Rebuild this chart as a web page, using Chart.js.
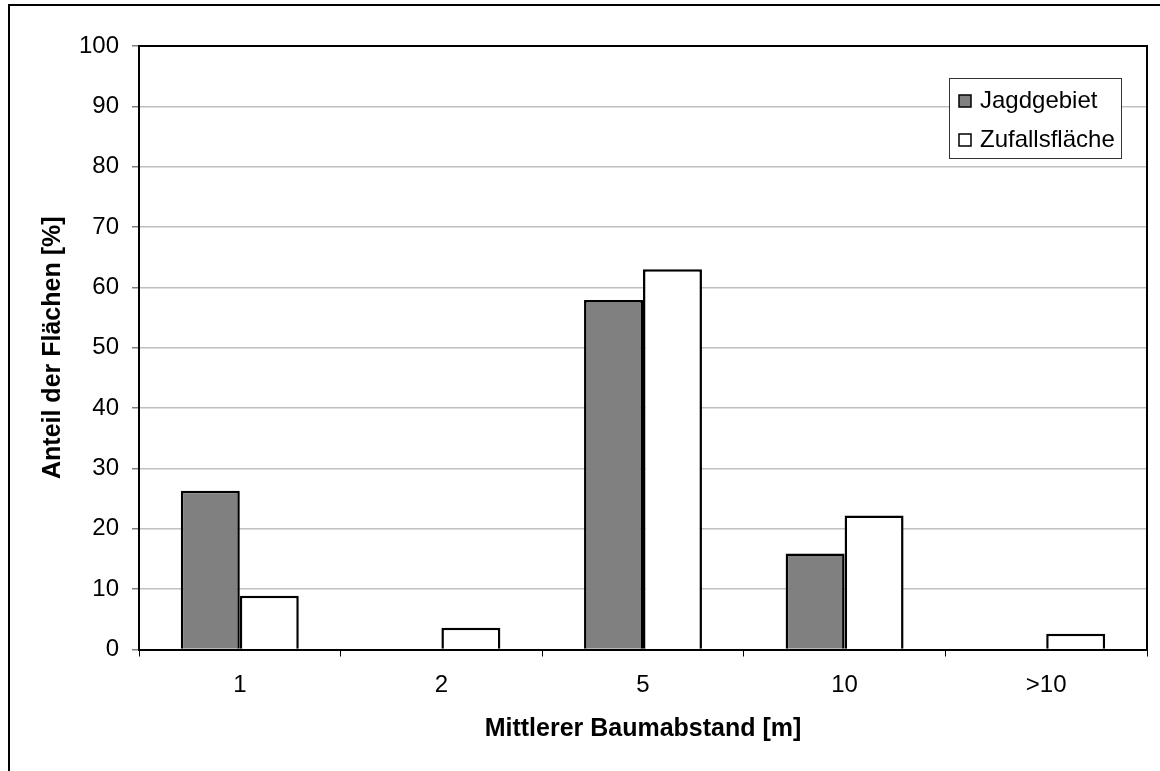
<!DOCTYPE html>
<html>
<head>
<meta charset="utf-8">
<script src="https://cdn.jsdelivr.net/npm/chart.js@4/dist/chart.umd.min.js"></script>
<style>
  html, body { margin: 0; padding: 0; background: #fff; }
  #wrap { width: 1160px; height: 771px; }
</style>
</head>
<body>
<div id="wrap"><canvas id="chart_baumabstand" width="1160" height="771"></canvas></div>
<script>
// Mittlerer Baumabstand: Jagdgebiet vs. Zufallsfläche
const kategorien = ["1", "2", "5", "10", ">10"];
const jagdgebiet = [26.3, 0, 57.9, 15.9, 0];
const zufallsflaeche = [8.9, 3.6, 63.0, 22.2, 2.6];
const yTicks = [0, 10, 20, 30, 40, 50, 60, 70, 80, 90, 100];

const fontName = "'Liberation Sans', Arial, sans-serif";

// frames, axis titles and the legend box
const excelLook = {
    id: "excelLook",
    afterDraw(chart) {
        const ctx = chart.ctx;
        const a = chart.chartArea;
        ctx.save();

        // outer border (only left and top edges are visible)
        ctx.strokeStyle = "#000";
        ctx.lineWidth = 2;
        ctx.beginPath();
        ctx.moveTo(9, 771);
        ctx.lineTo(9, 5);
        ctx.lineTo(1160, 5);
        ctx.stroke();

        // plot area frame, top + right
        ctx.beginPath();
        ctx.moveTo(a.left, a.top);
        ctx.lineTo(a.right, a.top);
        ctx.lineTo(a.right, a.bottom);
        ctx.stroke();

        // axis titles
        ctx.fillStyle = "#000";
        ctx.font = "bold 25px " + fontName;
        ctx.textAlign = "center";
        ctx.textBaseline = "middle";
        ctx.fillText("Mittlerer Baumabstand [m]", (a.left + a.right) / 2, 729);
        ctx.translate(53, (a.top + a.bottom) / 2);
        ctx.rotate(-Math.PI / 2);
        ctx.fillText("Anteil der Flächen [%]", 0, 0);
        ctx.setTransform(1, 0, 0, 1, 0, 0);

        // legend
        ctx.fillStyle = "#fff";
        ctx.fillRect(949, 78, 172, 80);
        ctx.strokeStyle = "#333";
        ctx.lineWidth = 1;
        ctx.strokeRect(949.5, 78.5, 172, 80);
        const rows = [101, 140];
        ctx.font = "24px " + fontName;
        ctx.textAlign = "left";
        chart.data.datasets.forEach((ds, i) => {
            const y = rows[i];
            ctx.fillStyle = ds.backgroundColor;
            ctx.fillRect(959, y - 6, 12, 12);
            ctx.strokeStyle = "#000";
            ctx.lineWidth = 1.5;
            ctx.strokeRect(959, y - 6, 12, 12);
            ctx.fillStyle = "#000";
            ctx.fillText(ds.label, 980, y);
        });
        ctx.restore();
    }
};

new Chart(document.getElementById("chart_baumabstand"), {
    type: "bar",
    data: {
        labels: kategorien,
        datasets: [{
            label: "Jagdgebiet",
            data: jagdgebiet,
            backgroundColor: "#808080",
            borderColor: "#000",
            borderWidth: 2.5,
        }, {
            label: "Zufallsfläche",
            data: zufallsflaeche,
            backgroundColor: "#ffffff",
            borderColor: "#000",
            borderWidth: 2.5,
        }]
    },
    options: {
        responsive: false,
        animation: false,
        layout: {
            padding: { left: 0, top: 46, right: 13, bottom: 0 }
        },
        datasets: {
            bar: { categoryPercentage: 0.585, barPercentage: 1.0 }
        },
        plugins: {
            legend: { display: false },
            tooltip: { enabled: false }
        },
        scales: {
            x: {
                afterFit: (scale) => { scale.height = 121.5; },
                grid: {
                    offset: true,
                    drawOnChartArea: false,
                    tickLength: 7,
                    tickColor: "#000",
                },
                border: { color: "#000", width: 2 },
                ticks: {
                    color: "#000",
                    padding: 14,
                    font: { family: fontName, size: 24 },
                    maxRotation: 0,
                }
            },
            y: {
                min: 0,
                max: 100,
                afterFit: (scale) => { scale.width = 139; },
                afterBuildTicks: (scale) => { scale.ticks = yTicks.map(v => ({ value: v })); },
                grid: {
                    color: "#c0c0c0",
                    lineWidth: 1.5,
                    tickLength: 7,
                    tickColor: "#808080",
                },
                border: { color: "#000", width: 2 },
                ticks: {
                    color: "#000",
                    padding: 13,
                    font: { family: fontName, size: 24 },
                }
            }
        }
    },
    plugins: [excelLook]
});
</script>
</body>
</html>
